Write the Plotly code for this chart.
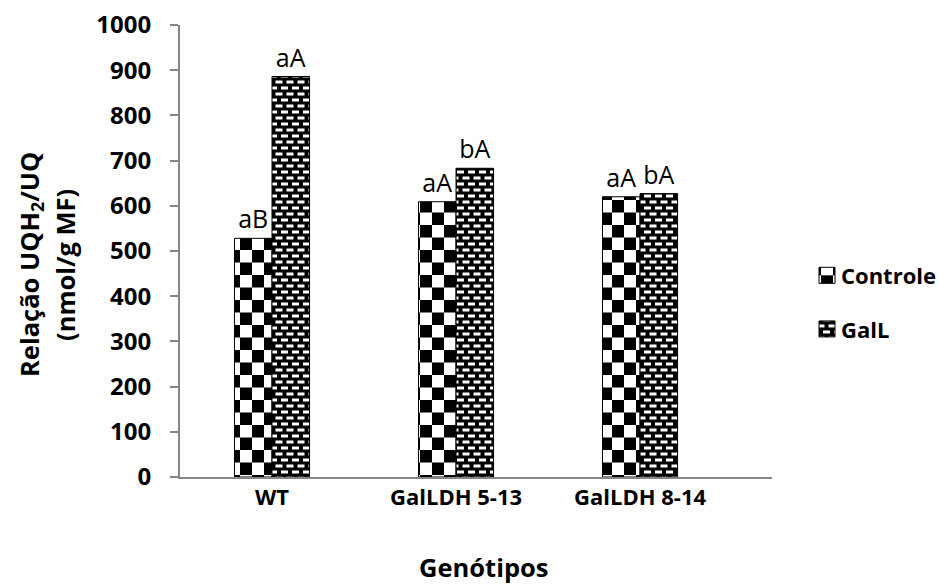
import plotly.graph_objects as go

categories = ["WT", "GalLDH 5-13", "GalLDH 8-14"]
controle = [528, 609, 620]
gall = [886, 683, 627]
controle_labels = ["aB", "aA", "aA"]
gall_labels = ["aA", "bA", "bA"]
series_names = ["Controle", "GalL"]

FONT = "Open Sans"
GREY = "#868686"

fig = go.Figure()
fig.add_trace(go.Bar(
    name=series_names[0], x=categories, y=controle, text=controle_labels,
    legendgroup="g1",
    textposition="outside", cliponaxis=False,
    textfont=dict(family=FONT, size=25, color="black"),
    marker=dict(color="white", line=dict(color="black", width=1),
                pattern=dict(shape="+", fgcolor="black", bgcolor="white", size=12, solidity=0.5)),
))
fig.add_trace(go.Bar(
    name=series_names[1], x=categories, y=gall, text=gall_labels,
    legendgroup="g2",
    textposition="outside", cliponaxis=False,
    textfont=dict(family=FONT, size=25, color="black"),
    marker=dict(color="black", line=dict(color="black", width=1),
                pattern=dict(shape="-", fgcolor="white", bgcolor="black", size=6, solidity=0.4)),
))

fig.update_layout(
    width=939, height=586,
    margin=dict(l=180, r=167, t=25, b=109, autoexpand=False),
    paper_bgcolor="white", plot_bgcolor="white",
    barmode="group", bargap=0.592, bargroupgap=0,
    showlegend=True,
    legend=dict(x=1.049, xanchor="left", y=0.386, yanchor="middle",
                traceorder="grouped",
                font=dict(family=FONT, size=22, color="black", weight="bold"),
                tracegroupgap=22, bgcolor="rgba(0,0,0,0)"),
    xaxis=dict(range=[-0.5, 2.717], showline=True, linecolor=GREY, linewidth=2,
               ticks="", showgrid=False, zeroline=False, automargin=False,
               tickfont=dict(family=FONT, size=22, color="black", weight="bold")),
    yaxis=dict(range=[0, 1000], dtick=100, showline=True, linecolor=GREY, linewidth=2,
               ticks="outside", ticklen=8, tickcolor=GREY, tickwidth=2, automargin=False,
               showgrid=False, zeroline=False, ticklabelstandoff=14,
               tickfont=dict(family=FONT, size=24, color="black", weight="bold")),
    annotations=[
        dict(text="Genótipos", xref="paper", yref="paper", x=0.5135, y=-0.199,
             xanchor="center", yanchor="middle", showarrow=False,
             font=dict(family=FONT, size=25.5, color="black", weight="bold")),
        dict(text="Relação UQH<sub>2</sub>/UQ", xref="paper", yref="paper",
             x=(30 - 180) / 592, y=0.469, xanchor="center", yanchor="middle",
             textangle=-90, showarrow=False,
             font=dict(family=FONT, size=25.5, color="black", weight="bold")),
        dict(text="(nmol/g MF)", xref="paper", yref="paper",
             x=(65 - 180) / 592, y=0.469, xanchor="center", yanchor="middle",
             textangle=-90, showarrow=False,
             font=dict(family=FONT, size=25.5, color="black", weight="bold")),
    ],
)

post = r"""
(function(){
var gd=document.getElementById('{plot_id}');
var NS='http://www.w3.org/2000/svg';
function mk(tag,attrs){var e=document.createElementNS(NS,tag);for(var k in attrs)e.setAttribute(k,attrs[k]);return e;}
function setPat(p,kind){
  if(p.getAttribute('data-fixed')==String(kind))return;
  while(p.firstChild)p.removeChild(p.firstChild);
  p.setAttribute('patternUnits','userSpaceOnUse');
  p.removeAttribute('patternTransform');
  if(kind===0){
    p.setAttribute('width','24');p.setAttribute('height','25');
    p.appendChild(mk('rect',{x:0,y:0,width:24,height:25,fill:'#fff'}));
    p.appendChild(mk('rect',{x:0,y:0,width:12,height:12.5,fill:'#000'}));
    p.appendChild(mk('rect',{x:12,y:12.5,width:12,height:12.5,fill:'#000'}));
  } else {
    p.setAttribute('width','11');p.setAttribute('height','12');
    p.appendChild(mk('rect',{x:0,y:0,width:11,height:12,fill:'#000'}));
    p.appendChild(mk('rect',{x:2,y:1.5,width:7,height:3,fill:'#fff'}));
    p.appendChild(mk('rect',{x:-3.5,y:7.5,width:7,height:3,fill:'#fff'}));
    p.appendChild(mk('rect',{x:7.5,y:7.5,width:7,height:3,fill:'#fff'}));
  }
  p.setAttribute('data-fixed',String(kind));
}
function idOf(el){var f=el.style.fill||el.getAttribute('fill')||'';var m=f.match(/#([^'"\)]+)/);return m?m[1]:null;}
function fix(){
  gd.querySelectorAll('.barlayer .trace').forEach(function(t,i){
    t.querySelectorAll('path').forEach(function(pa){var id=idOf(pa);if(id){var p=document.getElementById(id);if(p)setPat(p,i);}});
  });
  gd.querySelectorAll('.legend .traces').forEach(function(t,i){
    t.querySelectorAll('.legendpoints path').forEach(function(pa){
      pa.setAttribute('d','M14,8H-2V-8H14Z');
      var id=idOf(pa);if(id){var p=document.getElementById(id);if(p)setPat(p,i);}
    });
  });
}
fix();
gd.on('plotly_afterplot',fix);
})();
"""

fig.write_html("out.html", post_script=post)
